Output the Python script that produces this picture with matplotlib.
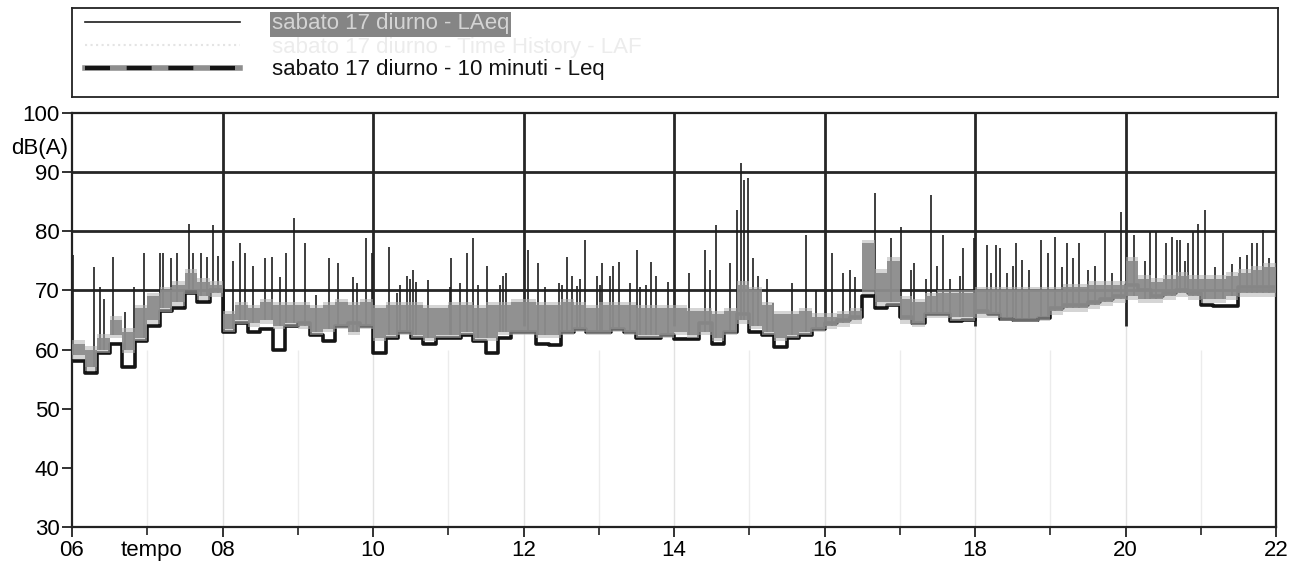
import matplotlib.pyplot as plt
import numpy as np
from matplotlib.lines import Line2D

plt.rcParams['font.family'] = ['Liberation Sans', 'DejaVu Sans']

# 10-minute Leq step line, 06:00 -> 22:00 (6 values per hour)
leq10 = [
    58, 56, 59.5, 61, 57, 61.5,          # 06
    64, 66.5, 67, 69.5, 68, 70,          # 07
    63, 64.5, 63, 63.5, 60, 64,          # 08
    64.5, 62.5, 61.5, 64, 64.5, 64,      # 09
    59.5, 62, 63, 62, 61, 62,            # 10
    62, 62.5, 61.5, 59.5, 62, 63,        # 11
    63, 61, 60.8, 63, 63.5, 63,          # 12
    63, 63.5, 63, 62, 62, 62.5,          # 13
    61.8, 61.8, 64.5, 61, 63, 66,        # 14
    63, 62.5, 60.5, 62, 62.5, 63.5,      # 15
    64.5, 65, 65.5, 69, 67, 67.5,        # 16
    65.5, 64.5, 66, 66, 64.8, 65,        # 17
    66.5, 66, 65.2, 65, 65, 65.3,        # 18
    67, 67.5, 67.5, 68, 68.5, 69,        # 19
    71, 70, 69, 69.5, 70, 69.5,          # 20
    67.5, 67.3, 67.3, 70.5, 70.5, 70.5,  # 21
]

# LAeq band (low / high edge for every 10 minutes)
band_lo = [
    59, 57, 60, 62.5, 60, 62,
    65, 67, 68, 70, 69, 69.5,
    63.5, 65, 64.5, 65, 64, 64.5,
    64, 63, 63.5, 64, 63, 64,
    62, 62.5, 63, 62.5, 62, 62.5,
    62.5, 63, 62, 62, 63, 63,
    63, 62.5, 62.5, 63, 63.5, 63,
    63, 63.5, 63, 62.5, 62.5, 62.5,
    63, 62.5, 63, 62, 63, 65,
    64, 63, 62, 62.5, 63, 63.5,
    64, 64.5, 65, 70, 68, 68,
    65, 64.5, 66, 66, 65.5, 65.5,
    66, 66, 65.5, 65.3, 65.3, 65.5,
    66.5, 67, 67, 67.5, 68, 68.5,
    69, 68.5, 68.5, 69, 69.5, 69,
    68.5, 68.5, 69, 69.5, 69.5, 69.5,
]
band_hi = [
    61, 60, 62, 65, 63, 67,
    69, 70, 71, 73, 71.5, 71,
    66, 67.5, 67, 68, 67.5, 67.5,
    67.5, 67, 67.5, 68, 67.5, 68,
    67, 67.5, 67.5, 67.5, 67, 67,
    67.5, 67.5, 67, 67.5, 67.5, 68,
    68, 67.5, 67.5, 68, 67.5, 67,
    67.5, 67.5, 67.5, 67, 67, 67,
    67, 66.5, 66.5, 66, 66.5, 71,
    70, 67.5, 66, 66, 66.5, 65.5,
    65.5, 66, 66.5, 78, 73, 75,
    68.5, 68, 69, 69.5, 69.5, 69.5,
    70, 70, 70, 70, 70, 70,
    70, 70.5, 70.5, 71, 71, 71,
    75, 72, 71.5, 72, 72.5, 72,
    72, 72, 72.5, 73, 73.5, 74,
]

# short events above the band: time (hours) and peak level dB(A)
spike_t = [
    6.01, 6.29, 6.37, 6.43, 6.54, 6.70, 6.82, 6.96, 7.17, 7.21, 7.32, 7.40,
    7.55, 7.61, 7.71, 7.79, 7.87, 7.94, 8.14, 8.23, 8.30, 8.41, 8.56, 8.66,
    8.76, 8.84, 8.95, 9.10, 9.24, 9.42, 9.53, 9.73, 9.79, 9.91, 9.99, 10.21,
    10.32, 10.45, 10.53, 10.57, 10.73, 11.04, 11.16, 11.25, 11.33, 11.51, 11.73, 11.77,
    12.06, 12.19, 12.47, 12.58, 12.64, 12.71, 12.82, 12.98, 13.04, 13.19, 13.27, 13.42,
    13.51, 13.69, 13.76, 13.92, 14.20, 14.41, 14.48, 14.56, 14.74, 14.84, 14.89, 14.93,
    14.98, 15.05, 15.12, 15.24, 15.32, 15.57, 15.75, 15.89, 16.10, 16.25, 16.34, 16.41,
    16.67, 16.88, 17.02, 17.15, 17.19, 17.42, 17.49, 17.57, 17.67, 17.84, 17.99, 18.16,
    18.28, 18.33, 18.50, 18.54, 18.62, 18.88, 18.97, 19.06, 19.22, 19.30, 19.38, 19.59,
    19.73, 19.94, 20.11, 20.33, 20.41, 20.54, 20.62, 20.68, 20.72, 20.83, 20.90, 20.96,
    21.06, 21.30, 21.52, 21.68, 21.75, 21.83, 21.91,
    10.36, 10.49, 11.02, 11.40, 11.69, 12.29, 12.51, 12.75, 13.02, 13.15, 13.55, 13.63,
    17.35, 17.80, 18.21, 18.43, 18.72, 19.16, 19.50, 19.82, 20.26, 20.79, 21.19, 21.41,
    21.61,
]
spike_db = [
    76, 73.9, 70.5, 68.6, 75.6, 66.3, 70.5, 76.4, 76.4, 76.3, 75.4, 76.4,
    81.3, 76.4, 76.3, 75.6, 81, 75.9, 75, 78, 76.4, 74.2, 75.4, 75.6,
    72.2, 76.3, 82.2, 78, 69.2, 75.4, 74.6, 72.2, 71.2, 78.8, 76.3, 77.3,
    69.5, 72.5, 73.4, 71.4, 71.7, 75.4, 71.2, 76.3, 78.8, 74.2, 72.5, 72.9,
    76.8, 74.6, 71.2, 75.6, 72.5, 70.8, 78.5, 72.5, 74.6, 74.2, 74.8, 71.2,
    76.8, 74.8, 72.5, 71.4, 73, 76.8, 73.4, 81, 74.6, 83.6, 91.5, 88.6,
    89, 75.4, 72.5, 72, 67.8, 71.2, 79.3, 70, 76.3, 72.9, 73.4, 72.2,
    86.4, 78.8, 80.7, 73.4, 74.6, 86.1, 74.2, 79.3, 72, 77.1, 78.8, 77.6,
    77.6, 77.1, 74.2, 78.1, 75.1, 78.5, 76.3, 79, 78.1, 75.4, 78.1, 74.2,
    79.7, 83.2, 79.3, 79.8, 79.8, 78.1, 79, 78.5, 78.5, 78.1, 79.8, 81.3,
    83.6, 79.7, 75.6, 78.1, 78, 80.2, 75.4,
    71, 72, 70.5, 71, 71, 70.5, 71, 72, 71, 72.5, 70.5, 71,
    72, 72.5, 73, 73, 73.5, 74, 73.5, 73, 75, 75, 74, 74.5,
    76,
]

x_labels = ['06', '08', '10', '12', '14', '16', '18', '20', '22']
legend_labels = ['sabato 17 diurno - LAeq',
                 'sabato 17 diurno - Time History - LAF',
                 'sabato 17 diurno - 10 minuti - Leq']

t_edges = 6 + np.arange(len(leq10) + 1) / 6
lo_edges = np.array(band_lo + [band_lo[-1]])
hi_edges = np.array(band_hi + [band_hi[-1]])

fig = plt.figure(figsize=(12.98, 5.66), dpi=100)
ax = fig.add_axes([72 / 1298, 39 / 566, 1204 / 1298, 414 / 566])

# grid: dark in the upper part, faint below
ax.hlines([70, 80, 90], 6, 22, color='#262626', lw=2.0, zorder=1)
ax.vlines(range(8, 22, 2), 64, 100, color='#262626', lw=2.0, zorder=1)
ax.vlines(range(8, 22, 2), 30, 64, color='#e2e2e2', lw=1.0, zorder=0)
ax.vlines(range(7, 22, 2), 30, 60, color='#ececec', lw=1.0, zorder=0)

# spikes start from the lower edge of the band
idx = np.clip(((np.array(spike_t) - 6) * 6).astype(int), 0, len(band_lo) - 1)
spike_base = np.array(band_lo)[idx]
ax.vlines(spike_t, spike_base, spike_db, color='#1e1e1e', lw=1.2, zorder=2)

ax.step(t_edges, leq10 + [leq10[-1]], where='post', color='#141414', lw=2.6, zorder=2)
# soft edge around the band, then the band itself
ax.fill_between(t_edges, lo_edges - 0.6, hi_edges + 0.6, step='post',
                color='#b4b4b4', alpha=0.55, lw=0, zorder=3)
ax.fill_between(t_edges, lo_edges, hi_edges, step='post',
                color='#8a8a8a', alpha=0.9, lw=0, zorder=3)

ax.set_xlim(6, 22)
ax.set_ylim(30, 100)
ax.set_yticks(range(30, 101, 10))
ax.set_xticks(range(6, 23, 2))
ax.set_xticklabels(x_labels)
ax.set_xticks(range(7, 22, 2), minor=True)
ax.tick_params(axis='both', which='major', direction='out', length=7, width=1.3,
               labelsize=16, pad=2, color='#222')
ax.tick_params(axis='x', which='minor', direction='out', length=6, width=1.2, color='#222')
for s in ax.spines.values():
    s.set_linewidth(1.6)
    s.set_color('#222')

ax.text(7.05, -0.032, 'tempo', transform=ax.get_xaxis_transform(),
        ha='center', va='top', fontsize=16)
fig.text(68 / 1298, 1 - 148 / 566, 'dB(A)', ha='right', va='center', fontsize=16)

# legend box drawn in its own axes (pixel units from the top-left of the box)
lax = fig.add_axes([72 / 1298, (566 - 97) / 566, 1206 / 1298, 89 / 566])
lax.set_xlim(0, 1206)
lax.set_ylim(89, 0)
lax.set_xticks([])
lax.set_yticks([])
for s in lax.spines.values():
    s.set_linewidth(1.3)
    s.set_color('#222')

lax.add_line(Line2D([13, 168], [14, 14], color='#1e1e1e', lw=1.2))
lax.add_line(Line2D([13, 168], [37, 37], color='#e4e4e4', lw=1.5, ls=':'))
lax.add_line(Line2D([13, 168], [60, 60], color='#8e8e8e', lw=4))
lax.add_line(Line2D([13, 168], [60, 60], color='#141414', lw=3, dashes=(6, 4)))

lax.text(200, 16, legend_labels[0], va='center', ha='left', fontsize=16, color='#d4d4d4',
         bbox=dict(facecolor='#858585', edgecolor='none', pad=1.5))
lax.text(200, 39, legend_labels[1], va='center', ha='left', fontsize=16, color='#ececec')
lax.text(200, 62, legend_labels[2], va='center', ha='left', fontsize=16, color='#111')

fig.savefig('out.png', dpi=100)
